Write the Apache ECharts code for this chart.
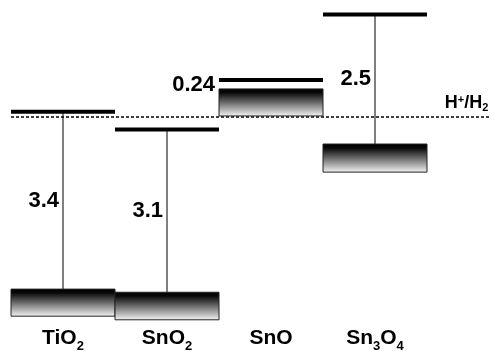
<!DOCTYPE html>
<html lang="en">
<head>
    <meta charset="UTF-8">
    <title>Band positions</title>
    <style>
        html, body { margin: 0; padding: 0; background: #fff; }
        #main { width: 491px; height: 351px; }
    </style>
</head>
<body>
    <div id="main"></div>
    <script src="https://cdn.jsdelivr.net/npm/echarts@6/dist/echarts.min.js"></script>
    <script type="text/javascript">
        // potentials vs H+/H2 (eV), negative is up
        var materials = ['TiO2', 'SnO2', 'SnO', 'Sn3O4'];
        var matLabels = ['{b|TiO}{s|2}', '{b|SnO}{s|2}', '{b|SnO}', '{b|Sn}{s|3}{b|O}{s|4}'];
        var cbEdge = [-0.1, 0.24, -0.71, -1.97];
        var vbTop = [3.31, 3.37, -0.54, 0.52];
        var vbBottom = [3.83, 3.9, -0.02, 1.06];
        var gapText = ['3.4', '3.1', '0.24', '2.5'];
        var refLevel = 0;   // H+/H2
        var xMax = 4.6;

        var chart = echarts.init(document.getElementById('main'));
        var font = 'Liberation Sans';

        var bands = [];
        for (var i = 0; i < materials.length; i++) {
            bands.push([i, cbEdge[i], vbTop[i], vbBottom[i], gapText[i]]);
        }

        function renderBand(params, api) {
            var idx = api.value(0);
            var cb = api.coord([idx, api.value(1)]);
            var vt = api.coord([idx, api.value(2)]);
            var vb = api.coord([idx, api.value(3)]);
            var x0 = cb[0];
            var x1 = api.coord([idx + 1, 0])[0];
            var xc = (x0 + x1) / 2;
            var children = [];
            var gapPx = vt[1] - cb[1];
            if (gapPx > 30) {
                children.push({
                    type: 'line',
                    shape: { x1: xc, y1: cb[1], x2: xc, y2: vt[1] },
                    style: { stroke: '#000', lineWidth: 1 }
                });
            }
            children.push({
                type: 'rect',
                shape: { x: x0, y: vt[1], width: x1 - x0, height: vb[1] - vt[1] },
                style: {
                    fill: new echarts.graphic.LinearGradient(0, 0, 0, 1, [
                        { offset: 0, color: '#000' },
                        { offset: 0.15, color: '#080808' },
                        { offset: 1, color: '#f6f6f6' }
                    ]),
                    stroke: '#222',
                    lineWidth: 1
                }
            });
            children.push({
                type: 'line',
                shape: { x1: x0, y1: cb[1], x2: x1, y2: cb[1] },
                style: { stroke: '#000', lineWidth: 4 }
            });
            children.push({
                type: 'text',
                style: {
                    text: api.value(4),
                    x: gapPx > 30 ? xc - 4 : x0 - 4,
                    y: (cb[1] + vt[1]) / 2,
                    align: 'right',
                    verticalAlign: 'middle',
                    fontFamily: font,
                    fontSize: 22,
                    fontWeight: 'bold',
                    fill: '#000'
                }
            });
            return { type: 'group', children: children };
        }

        function renderRef(params, api) {
            var p = api.coord([api.value(0), api.value(1)]);
            return {
                type: 'text',
                style: {
                    text: 'H{p|+}/H{s|2}',
                    x: p[0] - 1,
                    y: p[1] - 4,
                    align: 'right',
                    verticalAlign: 'bottom',
                    fontFamily: font,
                    fontSize: 18,
                    fontWeight: 'bold',
                    fill: '#000',
                    rich: {
                        p: { fontFamily: font, fontSize: 11, fontWeight: 'bold', fill: '#000', padding: [0, 0, 7, 0] },
                        s: { fontFamily: font, fontSize: 11, fontWeight: 'bold', fill: '#000', padding: [9, 0, 0, 0] }
                    }
                }
            };
        }

        var option = {
            animation: false,
            grid: { left: 11, right: 1.6, top: 13, bottom: 31.2, outerBoundsMode: 'none' },
            xAxis: {
                type: 'value',
                min: 0,
                max: xMax,
                axisLine: { show: false },
                axisTick: { show: false },
                splitLine: { show: false },
                axisLabel: {
                    customValues: [0.5, 1.5, 2.5, 3.5],
                    margin: 3,
                    formatter: function (v) {
                        return matLabels[Math.floor(v)];
                    },
                    fontFamily: font,
                    fontSize: 21,
                    fontWeight: 'bold',
                    color: '#000',
                    rich: {
                        b: {
                            fontFamily: font,
                            fontSize: 21,
                            fontWeight: 'bold',
                            color: '#000',
                            lineHeight: 30,
                            verticalAlign: 'middle'
                        },
                        s: {
                            fontFamily: font,
                            fontSize: 13,
                            fontWeight: 'bold',
                            color: '#000',
                            lineHeight: 14,
                            verticalAlign: 'bottom'
                        }
                    }
                }
            },
            yAxis: {
                type: 'value',
                inverse: true,
                min: -2.0,
                max: 3.9,
                show: false
            },
            series: [
                {
                    type: 'line',
                    data: [[0, refLevel], [xMax, refLevel]],
                    symbol: 'none',
                    lineStyle: { color: '#000', width: 1.5, type: [3, 2] },
                    z: 1
                },
                {
                    type: 'custom',
                    renderItem: renderBand,
                    data: bands,
                    z: 2
                },
                {
                    type: 'custom',
                    renderItem: renderRef,
                    data: [[xMax, refLevel]],
                    z: 3
                }
            ]
        };

        chart.setOption(option);
    </script>
</body>
</html>
